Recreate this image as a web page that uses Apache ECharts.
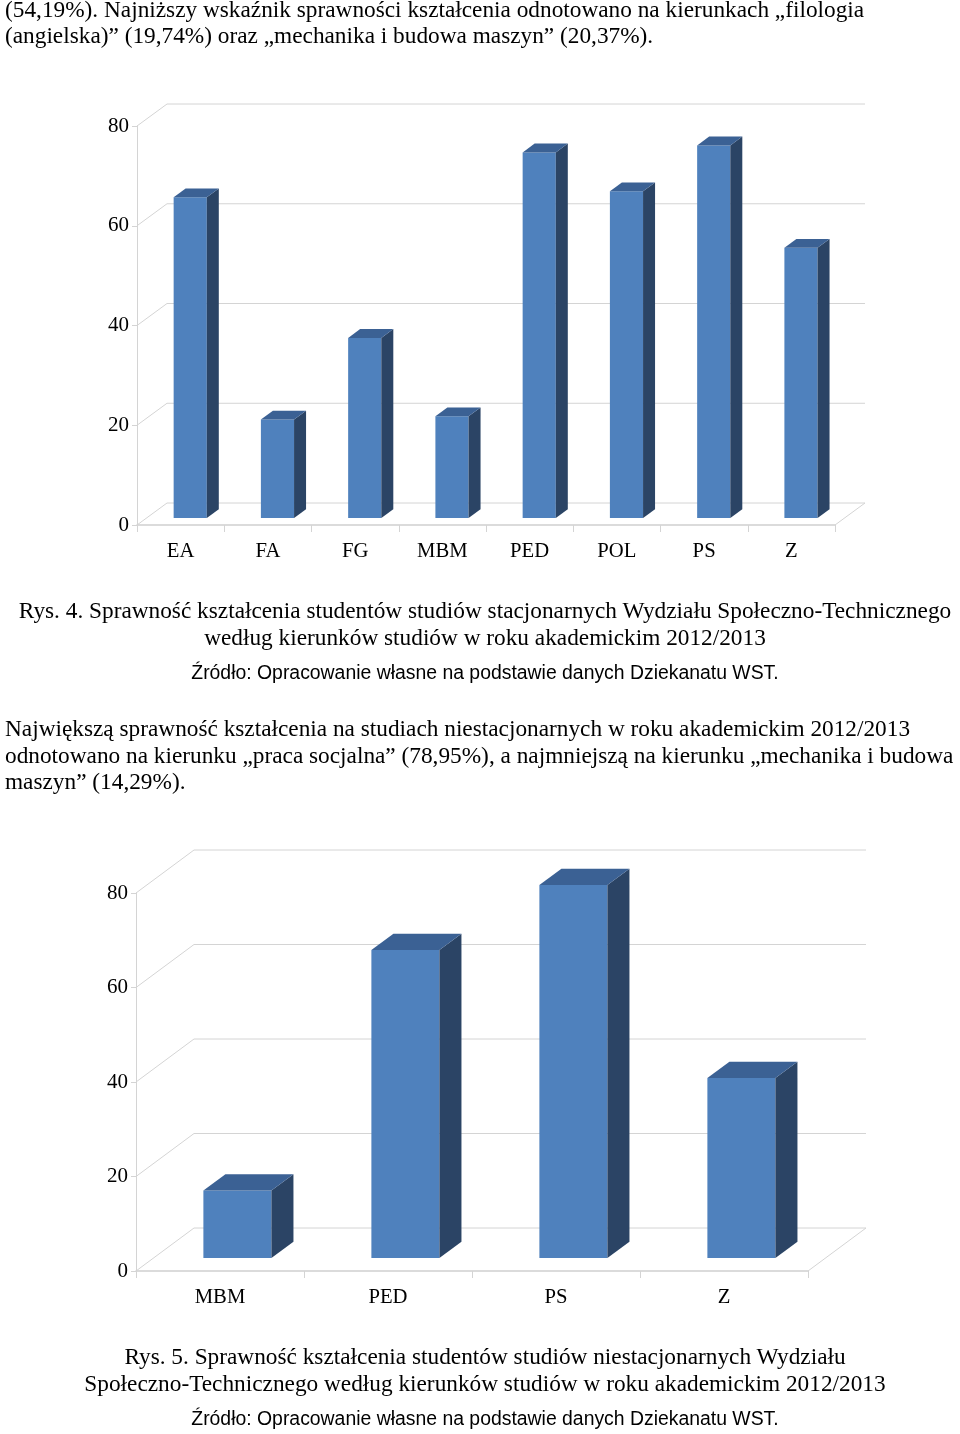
<!DOCTYPE html>
<html>
<head>
<meta charset="utf-8">
<script src="https://cdn.jsdelivr.net/npm/echarts@6/dist/echarts.min.js"></script>
<style>
  html, body { margin: 0; padding: 0; background: #fff; }
  #page { position: relative; width: 960px; height: 1434px; overflow: hidden; }
  #chart { position: absolute; left: 0; top: 0; width: 960px; height: 1434px; }
  .ln { position: absolute; white-space: nowrap; font-family: "Liberation Serif", serif; font-size: 23.3px; color: #000; line-height: 1; }
  .c { left: 0; width: 970px; text-align: center; }
  .src { font-family: "Liberation Sans", Arial, sans-serif; font-size: 19.4px; }
</style>
</head>
<body>
<div id="page">
  <div id="chart"></div>
  <div class="ln" style="left:5px;top:-2px">(54,19%). Najniższy wskaźnik sprawności kształcenia odnotowano na kierunkach „filologia</div>
  <div class="ln" style="left:5px;top:24px">(angielska)” (19,74%) oraz „mechanika i budowa maszyn” (20,37%).</div>

  <div class="ln c" style="top:599px">Rys. 4. Sprawność kształcenia studentów studiów stacjonarnych Wydziału Społeczno-Technicznego</div>
  <div class="ln c" style="top:626px">według kierunków studiów w roku akademickim 2012/2013</div>
  <div class="ln c src" style="top:663px">Źródło: Opracowanie własne na podstawie danych Dziekanatu WST.</div>

  <div class="ln" style="left:5px;top:717px">Największą sprawność kształcenia na studiach niestacjonarnych w roku akademickim 2012/2013</div>
  <div class="ln" style="left:5px;top:744px">odnotowano na kierunku „praca socjalna” (78,95%), a najmniejszą na kierunku „mechanika i budowa</div>
  <div class="ln" style="left:5px;top:770px">maszyn” (14,29%).</div>

  <div class="ln c" style="top:1345px">Rys. 5. Sprawność kształcenia studentów studiów niestacjonarnych Wydziału</div>
  <div class="ln c" style="top:1372px">Społeczno-Technicznego według kierunków studiów w roku akademickim 2012/2013</div>
  <div class="ln c src" style="top:1409px">Źródło: Opracowanie własne na podstawie danych Dziekanatu WST.</div>
</div>
<script>
// Rys. 4 - studia stacjonarne
const categories1 = ['EA', 'FA', 'FG', 'MBM', 'PED', 'POL', 'PS', 'Z'];
const values1 = [64.3, 19.74, 36.1, 20.37, 73.3, 65.5, 74.7, 54.19];

// Rys. 5 - studia niestacjonarne
const categories2 = ['MBM', 'PED', 'PS', 'Z'];
const values2 = [14.29, 65.2, 78.95, 38.1];

const yTicks = [0, 20, 40, 60, 80];

const FRONT = '#4f81bd';
const SIDE = '#2b4465';
const TOP = '#3b6194';
const GRID_LINE = '#d4d4d4';
const SERIF = '"Liberation Serif", serif';

// 3d look: wall offset (dx, dy), bar front plane and bar depth as fraction of wall depth
const look1 = { dx: 30, dy: -22, front: 0.32, depth: 0.4, width: 0.38 };
const look2 = { dx: 58, dy: -43, front: 0.3, depth: 0.38, width: 0.405 };

const renderBar = (look) => (params, api) => {
  const idx = api.value(0);
  const val = api.value(1);
  const base = api.coord([idx, 0]);
  const top = api.coord([idx, val]);
  const band = api.size([1, 0])[0];
  const w = band * look.width;
  const x0 = base[0] + look.dx * look.front - w / 2;
  const x1 = x0 + w;
  const yb = base[1] + look.dy * look.front;
  const yt = top[1] + look.dy * look.front;
  const bx = look.dx * look.depth;
  const by = look.dy * look.depth;
  return {
    type: 'group',
    children: [
      { type: 'rect', shape: { x: x0, y: yt, width: w, height: yb - yt }, style: { fill: FRONT } },
      { type: 'polygon', shape: { points: [[x1, yb], [x1, yt], [x1 + bx, yt + by], [x1 + bx, yb + by]] }, style: { fill: SIDE } },
      { type: 'polygon', shape: { points: [[x0, yt], [x1, yt], [x1 + bx, yt + by], [x0 + bx, yt + by]] }, style: { fill: TOP } },
    ],
  };
};

const renderWall = (look) => (params, api) => {
  const v = api.value(1);
  const cs = params.coordSys;
  const y = api.coord([0, v])[1];
  const left = cs.x;
  const right = cs.x + cs.width;
  const lineStyle = { stroke: GRID_LINE, lineWidth: 1 };
  const children = [
    { type: 'line', shape: { x1: left, y1: y, x2: left + look.dx, y2: y + look.dy }, style: lineStyle },
    { type: 'line', shape: { x1: left + look.dx, y1: y + look.dy, x2: right + look.dx, y2: y + look.dy }, style: lineStyle },
  ];
  if (v === 0) {
    children.push({ type: 'line', shape: { x1: right, y1: y, x2: right + look.dx, y2: y + look.dy }, style: lineStyle });
  }
  return { type: 'group', children };
};

const makeX = (gridIndex, data) => ({
  type: 'category',
  gridIndex,
  data,
  axisLine: { lineStyle: { color: '#cfcfcf', width: 1.5 } },
  axisTick: { show: true, alignWithLabel: false, length: 7, lineStyle: { color: '#d4d4d4' } },
  axisLabel: { color: '#000', fontFamily: SERIF, fontSize: 20.7, margin: 16 },
  splitLine: { show: false },
});

const makeY = (gridIndex) => ({
  type: 'value',
  gridIndex,
  min: 0,
  max: 80,
  interval: 20,
  axisLine: { show: true, lineStyle: { color: '#d4d4d4' } },
  axisTick: { show: true, length: 5, lineStyle: { color: '#d4d4d4' } },
  axisLabel: { color: '#000', fontFamily: SERIF, fontSize: 21, margin: 8, padding: [4, 0, 0, 0] },
  splitLine: { show: false },
});

const chart = echarts.init(document.getElementById('chart'));
chart.setOption({
  animation: false,
  grid: [
    { left: 137, top: 126, width: 698, height: 399 },
    { left: 136, top: 893, width: 672, height: 378 },
  ],
  xAxis: [makeX(0, categories1), makeX(1, categories2)],
  yAxis: [makeY(0), makeY(1)],
  series: [
    {
      type: 'custom', xAxisIndex: 0, yAxisIndex: 0, z: 1, silent: true,
      renderItem: renderWall(look1),
      data: yTicks.map((v) => [0, v]),
    },
    {
      type: 'custom', xAxisIndex: 0, yAxisIndex: 0, z: 3,
      renderItem: renderBar(look1),
      data: values1.map((v, i) => [i, v]),
    },
    {
      type: 'custom', xAxisIndex: 1, yAxisIndex: 1, z: 1, silent: true,
      renderItem: renderWall(look2),
      data: yTicks.map((v) => [0, v]),
    },
    {
      type: 'custom', xAxisIndex: 1, yAxisIndex: 1, z: 3,
      renderItem: renderBar(look2),
      data: values2.map((v, i) => [i, v]),
    },
  ],
});
</script>
</body>
</html>
